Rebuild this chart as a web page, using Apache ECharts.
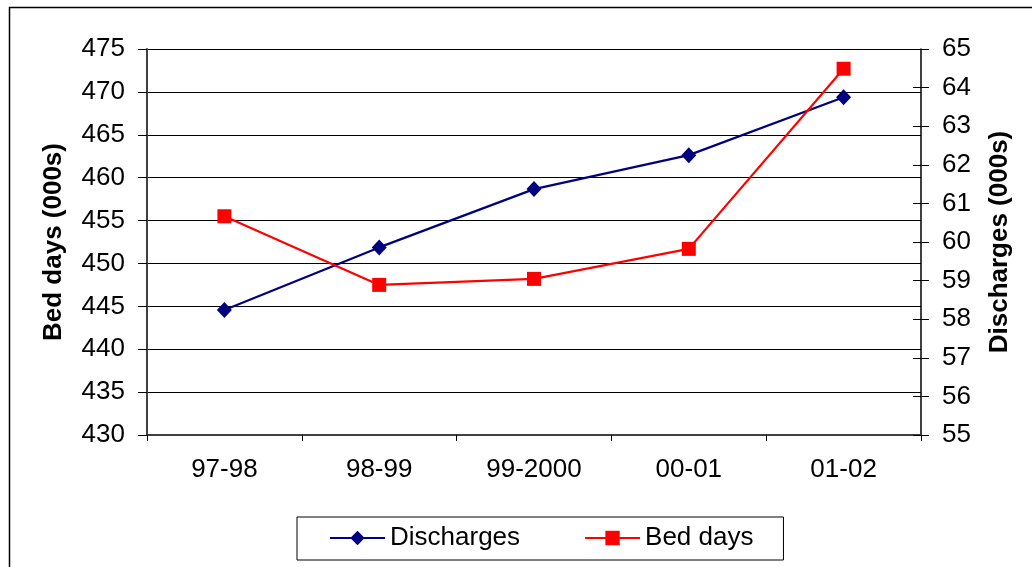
<!DOCTYPE html>
<html>
<head>
<meta charset="utf-8">
<title>Discharges and Bed days</title>
<script src="https://cdn.jsdelivr.net/npm/echarts@6/dist/echarts.min.js"></script>
<style>
  html, body { margin: 0; padding: 0; background: #ffffff; }
  #chart { width: 1032px; height: 567px; }
</style>
</head>
<body>
<div id="chart"></div>
<script>
// Financial years on the category axis
const years = ['97-98', '98-99', '99-2000', '00-01', '01-02'];
// Discharges (000s), right-hand axis
const discharges = [58.24, 59.86, 61.37, 62.25, 63.75];
// Bed days (000s), left-hand axis
const bedDays = [455.5, 447.5, 448.2, 451.7, 472.7];

const FONT = '"Liberation Sans", Arial, sans-serif';

const chart = echarts.init(document.getElementById('chart'), null, { renderer: 'canvas' });

chart.setOption({
  animation: false,
  backgroundColor: '#ffffff',
  textStyle: { fontFamily: FONT },
  graphic: [{
    type: 'rect',
    shape: { x: 9.5, y: 7.5, width: 1100, height: 600 },
    style: { fill: 'none', stroke: '#000000', lineWidth: 1.5 },
    silent: true
  }],
  grid: { left: 147, right: 111, top: 49, bottom: 132 },
  legend: {
    left: 297,
    top: 517,
    padding: [8, 30, 9, 32],
    itemGap: 64,
    itemWidth: 55,
    itemHeight: 18,
    borderColor: '#000000',
    borderWidth: 1,
    textStyle: { fontFamily: FONT, fontSize: 26, color: '#000000' },
    data: ['Discharges', 'Bed days']
  },
  xAxis: {
    type: 'category',
    data: years,
    boundaryGap: true,
    axisLine: { lineStyle: { color: '#404040', width: 2 } },
    axisTick: { show: true, length: 6, alignWithLabel: false, lineStyle: { color: '#000000' } },
    axisLabel: { fontFamily: FONT, fontSize: 26, color: '#000000', margin: 22 }
  },
  yAxis: [
    {
      type: 'value',
      position: 'left',
      min: 430, max: 475, interval: 5,
      name: 'Bed days (000s)',
      nameLocation: 'middle',
      nameGap: 80,
      nameTextStyle: { fontFamily: FONT, fontSize: 26, fontWeight: 'bold', color: '#000000' },
      axisLine: { show: true, lineStyle: { color: '#404040', width: 2 } },
      axisTick: { show: true, length: 9, lineStyle: { color: '#000000' } },
      axisLabel: { fontFamily: FONT, fontSize: 26, color: '#000000', margin: 22 },
      splitLine: { show: true, lineStyle: { color: '#000000', width: 1 } }
    },
    {
      type: 'value',
      position: 'right',
      min: 55, max: 65, interval: 1,
      name: 'Discharges (000s)',
      nameLocation: 'middle',
      nameGap: 66,
      nameRotate: 90,
      nameTextStyle: { fontFamily: FONT, fontSize: 26, fontWeight: 'bold', color: '#000000' },
      axisLine: { show: true, lineStyle: { color: '#000000', width: 1.5 } },
      axisTick: { show: true, length: 8, lineStyle: { color: '#000000' } },
      axisLabel: { fontFamily: FONT, fontSize: 26, color: '#000000', margin: 21 },
      splitLine: { show: false }
    },
    {
      // inner half of the right-axis tick marks
      type: 'value',
      position: 'right',
      min: 55, max: 65, interval: 1,
      axisLine: { show: false },
      axisTick: { show: true, inside: true, length: 8, lineStyle: { color: '#000000' } },
      axisLabel: { show: false },
      splitLine: { show: false }
    }
  ],
  series: [
    {
      name: 'Discharges',
      type: 'line',
      yAxisIndex: 1,
      data: discharges,
      symbol: 'diamond',
      symbolSize: [15, 16],
      color: '#000080',
      lineStyle: { color: '#000080', width: 2.2 },
      itemStyle: { color: '#000080' },
      z: 3
    },
    {
      name: 'Bed days',
      type: 'line',
      yAxisIndex: 0,
      data: bedDays,
      symbol: 'rect',
      symbolSize: 14,
      color: '#ff0000',
      lineStyle: { color: '#ff0000', width: 2.2 },
      itemStyle: { color: '#ff0000' },
      z: 4
    }
  ]
});
</script>
</body>
</html>
